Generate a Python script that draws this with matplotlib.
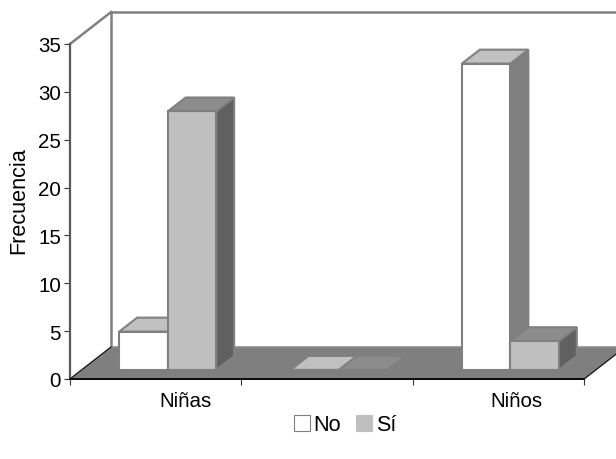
import matplotlib.pyplot as plt
from matplotlib.patches import Patch, Polygon
import numpy as np

plt.rcParams["font.family"] = ["Liberation Sans", "DejaVu Sans"]
plt.rcParams["font.size"] = 14.8

categories = ["Niñas", "", "Niños"]
no_values = [4, 0, 32]
si_values = [27, 0, 3]
series_names = ["No", "Sí"]
y_ticks = [0, 5, 10, 15, 20, 25, 30, 35]

# depth of the fake 3d box, in axis units (1 category wide, y in frequency)
wall_dx, wall_dy = 0.24, 3.34
inset_dx, inset_dy = 0.07, 0.95
depth_dx, depth_dy = 0.105, 1.46
bar_w = 0.283
label_pos = [0.677, 1.5, 2.606]
edge = "#808080"


def draw_bar(ax, x, value, face, top, side):
    b = inset_dy
    x0 = x + inset_dx
    x1 = x0 + bar_w
    h = value + b
    ax.add_patch(Polygon([(x1, b), (x1 + depth_dx, b + depth_dy), (x1 + depth_dx, h + depth_dy), (x1, h)],
                         facecolor=side, edgecolor=edge, lw=1.5, clip_on=False, zorder=3))
    ax.add_patch(Polygon([(x0, h), (x1, h), (x1 + depth_dx, h + depth_dy), (x0 + depth_dx, h + depth_dy)],
                         facecolor=top, edgecolor=edge, lw=1.5, clip_on=False, zorder=3))
    ax.add_patch(Polygon([(x0, b), (x1, b), (x1, h), (x0, h)],
                         facecolor=face, edgecolor=edge, lw=1.5, clip_on=False, zorder=3))


fig = plt.figure(figsize=(6.16, 4.6), dpi=100)
ax = fig.add_axes([70 / 616, 80 / 460, 514 / 616, 335 / 460])
ax.set_xlim(0, len(categories))
ax.set_ylim(0, y_ticks[-1])

right = len(categories)
top = y_ticks[-1]

# walls
ax.plot([wall_dx, wall_dx, right + wall_dx], [wall_dy, top + wall_dy, top + wall_dy],
        color=edge, lw=1.8, clip_on=False, zorder=1)
ax.plot([0, wall_dx], [top, top + wall_dy], color=edge, lw=1.8, clip_on=False, zorder=1)

# floor
ax.add_patch(Polygon([(0, 0), (right, 0), (right + wall_dx, wall_dy), (wall_dx, wall_dy)],
                     facecolor="#7f7f7f", edgecolor="#8c8c8c", lw=1.2, clip_on=False, zorder=2))
ax.plot([wall_dx, 0, right, right + wall_dx], [wall_dy, 0, 0, wall_dy],
        color="#111111", lw=0.8, clip_on=False, zorder=2)

for i in range(len(categories)):
    x = i + 0.5 - bar_w
    draw_bar(ax, x, no_values[i], "white", "#c0c0c0", "#808080")
    draw_bar(ax, x + bar_w, si_values[i], "#bfbfbf", "#8c8c8c", "#606060")

for s in ["top", "right"]:
    ax.spines[s].set_visible(False)
ax.spines["left"].set_color("#595959")
ax.spines["left"].set_linewidth(1.6)
ax.spines["bottom"].set_color("black")
ax.spines["bottom"].set_linewidth(1.2)
ax.patch.set_visible(False)

ax.set_yticks(y_ticks)
ax.set_xticks(np.arange(len(categories) + 1), [""] * (len(categories) + 1))
ax.set_xticks(label_pos, categories, minor=True)
ax.tick_params(axis="both", which="major", length=4.5, width=0.8, color="#333333", pad=2)
ax.tick_params(axis="x", which="minor", length=0, pad=8.5)
ax.set_ylabel("Frecuencia", fontsize=15.6)
ax.yaxis.set_label_coords(-41 / 514, 0.535)

handles = [Patch(facecolor="white", edgecolor="#808080", lw=0.8),
           Patch(facecolor="#bfbfbf", edgecolor="#bfbfbf", lw=0.8)]
fig.legend(handles, series_names, loc="center", bbox_to_anchor=(345 / 616, 1 - 426 / 460), ncol=2,
           frameon=False, fontsize=15.6, handlelength=0.75, handleheight=0.75, handletextpad=0.15,
           columnspacing=0.7, borderpad=0)

fig.savefig("out.png", dpi=100)
